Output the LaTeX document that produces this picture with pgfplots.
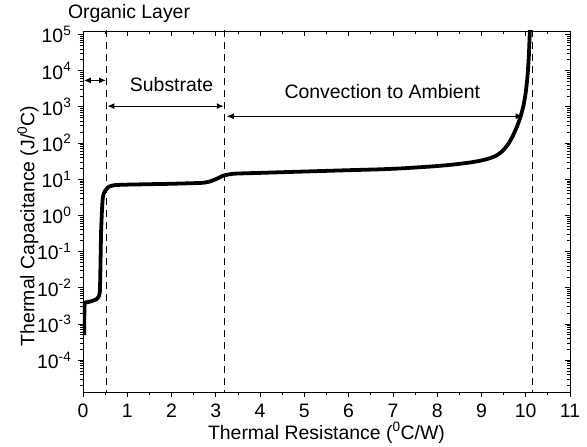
\documentclass[border=0pt]{standalone}
\usepackage{pgfplots}
\pgfplotsset{compat=1.18}
\usepackage{fontspec}
\setmainfont{Liberation Sans}
\usetikzlibrary{arrows.meta}
\begin{document}
\fontsize{19.5}{23}\selectfont
\begin{tikzpicture}
\begin{axis}[
  scale only axis, width=487bp, height=361bp,
  xmin=0, xmax=11, ymode=log, ymin=1.32e-5, ymax=1.25e5,
  xtick={0,1,2,3,4,5,6,7,8,9,10,11}, minor x tick num=1,
  ytick={1e-4,1e-3,1e-2,1e-1,1,1e1,1e2,1e3,1e4,1e5},
  minor ytick={2e-5,3e-5,4e-5,5e-5,6e-5,7e-5,8e-5,9e-5,2e-4,3e-4,4e-4,5e-4,6e-4,7e-4,8e-4,9e-4,2e-3,3e-3,4e-3,5e-3,6e-3,7e-3,8e-3,9e-3,2e-2,3e-2,4e-2,5e-2,6e-2,7e-2,8e-2,9e-2,0.2,0.3,0.4,0.5,0.6,0.7,0.8,0.9,2,3,4,5,6,7,8,9,20,30,40,50,60,70,80,90,200,300,400,500,600,700,800,900,2000,3000,4000,5000,6000,7000,8000,9000,2e4,3e4,4e4,5e4,6e4,7e4,8e4,9e4},
  major tick length=5bp, minor tick length=3bp,
  axis line style={line width=0.8pt},
  tick style={black, line width=0.8pt},
  tick align=outside, xtick pos=left, ytick pos=left,
  xticklabel style={font=\fontsize{19.5}{23}\selectfont},
  yticklabel style={font=\fontsize{19.5}{23}\selectfont},
  xticklabels={0,1,2,3,4,5,6,7,8,9,10,11},
  yticklabels={10\textsuperscript{-4},10\textsuperscript{-3},10\textsuperscript{-2},10\textsuperscript{-1},10\textsuperscript{0},10\textsuperscript{1},10\textsuperscript{2},10\textsuperscript{3},10\textsuperscript{4},10\textsuperscript{5}},
  xlabel={Thermal Resistance (\textsuperscript{0}C/W)},
  ylabel={Thermal Capacitance (J/\textsuperscript{0}C)},
  xlabel style={at={(rel axis cs:0.5,0)}, yshift=-41bp, anchor=center, font=\fontsize{19.5}{23}\selectfont},
  ylabel style={at={(rel axis cs:-0.113,0.46)}, anchor=center, font=\fontsize{19.5}{23}\selectfont},
  clip mode=individual,
]
\addplot[black, line width=1.2pt, dash pattern=on 7bp off 5bp] coordinates {(0.53,1e-6) (0.53,1e6)};
\addplot[black, line width=1.2pt, dash pattern=on 7bp off 5bp] coordinates {(3.19,1e-6) (3.19,1e6)};
\addplot[black, line width=1.2pt, dash pattern=on 7bp off 5bp] coordinates {(10.16,1e-6) (10.16,1e6)};
\addplot[black, line width=3.8pt, line join=round, smooth, tension=0.3] coordinates {
(0.03,4.9e-4) (0.03,1.5e-3) (0.04,3.8e-3) (0.10,4.0e-3) (0.20,4.3e-3) (0.30,4.8e-3)
(0.35,5.6e-3) (0.38,7.5e-3) (0.39,0.02) (0.40,0.1) (0.41,0.4) (0.43,1.5)
(0.45,3.3) (0.49,4.6) (0.58,6.2) (0.73,6.9) (1.0,7.1) (1.5,7.3) (2.0,7.5)
(2.5,7.8) (2.72,8.0) (2.87,8.7) (3.02,10.3) (3.17,12.6) (3.4,14.2) (4.0,15.0)
(4.9,16.2) (6.0,17.8) (6.7,18.8) (7.2,20.0) (7.84,22.4) (8.3,25) (8.74,29)
(9.0,33) (9.2,38.5) (9.35,46) (9.48,61) (9.6,92) (9.7,150) (9.8,280) (9.88,520)
(9.95,1100) (10.0,2500) (10.04,7000) (10.07,2.5e4) (10.09,1e5) (10.1,2e5)};
\draw[{Latex[length=7bp,width=6bp]}-{Latex[length=7bp,width=6bp]}, line width=1.2pt] (axis cs:0.02,5400) -- (axis cs:0.52,5400);
\draw[{Latex[length=7bp,width=6bp]}-{Latex[length=7bp,width=6bp]}, line width=1.2pt] (axis cs:0.55,1050) -- (axis cs:3.18,1050);
\draw[{Latex[length=7bp,width=6bp]}-{Latex[length=7bp,width=6bp]}, line width=0.8pt] (axis cs:3.25,550) -- (axis cs:9.93,550);
\node[font=\fontsize{19.5}{23}\selectfont] at (axis cs:2.0,4100) {Substrate};
\node[font=\fontsize{19.5}{23}\selectfont] at (axis cs:6.76,2630) {Convection to Ambient};
\node[font=\fontsize{19.5}{23}\selectfont] at (axis cs:1.04,3.8e5) {Organic Layer};
\end{axis}
\begin{axis}[
  scale only axis, width=487bp, height=361bp,
  xmin=0, xmax=11, ymode=log, ymin=1.32e-5, ymax=1.25e5,
  xtick={0,1,2,3,4,5,6,7,8,9,10,11}, minor x tick num=1,
  ytick={1e-4,1e-3,1e-2,1e-1,1,1e1,1e2,1e3,1e4,1e5},
  minor ytick={2e-5,3e-5,4e-5,5e-5,6e-5,7e-5,8e-5,9e-5,2e-4,3e-4,4e-4,5e-4,6e-4,7e-4,8e-4,9e-4,2e-3,3e-3,4e-3,5e-3,6e-3,7e-3,8e-3,9e-3,2e-2,3e-2,4e-2,5e-2,6e-2,7e-2,8e-2,9e-2,0.2,0.3,0.4,0.5,0.6,0.7,0.8,0.9,2,3,4,5,6,7,8,9,20,30,40,50,60,70,80,90,200,300,400,500,600,700,800,900,2000,3000,4000,5000,6000,7000,8000,9000,2e4,3e4,4e4,5e4,6e4,7e4,8e4,9e4},
  major tick length=5bp, minor tick length=3bp,
  axis line style={line width=0.8pt},
  tick style={black, line width=0.8pt},
  tick align=inside, xtick pos=right, ytick pos=right,
  xticklabels={}, yticklabels={},
]
\end{axis}
\pgfresetboundingbox
\path[use as bounding box] (-83bp,-55bp) rectangle (504bp,392bp);
\end{tikzpicture}
\end{document}
